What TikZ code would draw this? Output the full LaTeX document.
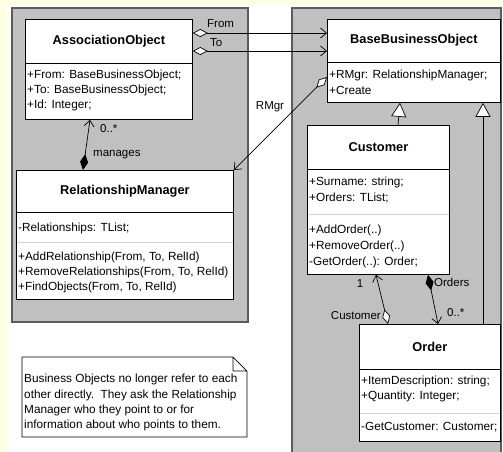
\documentclass[tikz,border=0pt]{standalone}
\usepackage{fontspec}
\setmainfont{Liberation Sans}
\usetikzlibrary{calc,arrows.meta}
\definecolor{paper}{HTML}{FFFFE1}
\definecolor{pkggray}{HTML}{C0C0C0}
\definecolor{pkgline}{HTML}{5C5C5C}
\definecolor{sepgray}{HTML}{D4D4D4}

\begin{document}
\begin{tikzpicture}[x=1pt,y=-1pt,
  pkg/.style={fill=pkggray,draw=pkgline,line width=1.4pt},
  cls/.style={draw=black,fill=white,line width=0.8pt,anchor=north west,inner sep=0pt},
  ttl/.style={font=\fontsize{12.8}{14}\selectfont\bfseries,inner sep=0pt},
  txt/.style={font=\fontsize{11.8}{14}\selectfont,anchor=west,inner sep=0pt},
  lbl/.style={font=\fontsize{11.5}{14}\selectfont,inner sep=0pt},
  link/.style={line width=0.7pt},
  agg/.style={link,{Diamond[fill=white,length=15pt,width=8pt]}-{Straight Barb[length=6pt,width=10pt]}},
  comp/.style={link,{Diamond[length=16pt,width=8pt]}-{Straight Barb[length=6pt,width=10pt]}},
  inherit/.style={link,-{Triangle[fill=white,length=14pt,width=15pt]}}]
\useasboundingbox (0,0) rectangle (503,451);
\fill[paper] (0,0) rectangle (503,451);
\fill[white] (7,4) rectangle (503,451);
% packages
\draw[pkg] (12,8) rectangle (248,322);
\draw[pkg] (292,8) rectangle (501,458);
% AssociationObject
\node[cls,minimum width=167pt,minimum height=100pt] (ao) at (25,19) {};
\node[ttl] (aoT) at ($(ao.north)+(0,22)$) {AssociationObject};
\draw ($(ao.north west)+(0,44)$) -- ($(ao.north east)+(0,44)$);
\foreach \t [count=\i] in {{+From: BaseBusinessObject;},{+To: BaseBusinessObject;},{+Id: Integer;}}
  \node[txt] (aoA\i) at ($(ao.north west)+(2,41+15*\i)$) {\t};
% BaseBusinessObject
\node[cls,minimum width=173pt,minimum height=83pt] (bbo) at (327,19) {};
\node[ttl] (bboT) at ($(bbo.north)+(0,21)$) {BaseBusinessObject};
\draw ($(bbo.north west)+(0,43)$) -- ($(bbo.north east)+(0,43)$);
\foreach \t [count=\i] in {{+RMgr: RelationshipManager;},{+Create}}
  \node[txt] (bboA\i) at ($(bbo.north west)+(2,41+15*\i)$) {\t};
% RelationshipManager
\node[cls,minimum width=217pt,minimum height=129pt] (rm) at (16,170) {};
\node[ttl] (rmT) at ($(rm.north)+(0,21)$) {RelationshipManager};
\draw ($(rm.north west)+(0,42)$) -- ($(rm.north east)+(0,42)$);
\node[txt] (rmA1) at ($(rm.north west)+(2,58)$) {-Relationships: TList;};
\draw[sepgray] ($(rm.north west)+(1,72)$) -- ($(rm.north east)+(-1,72)$);
\foreach \t [count=\i] in {{+AddRelationship(From, To, RelId)},{+RemoveRelationships(From, To, RelId)},{+FindObjects(From, To, RelId)}}
  \node[txt] (rmM\i) at ($(rm.north west)+(2,72+15*\i)$) {\t};
% Customer
\node[cls,minimum width=142pt,minimum height=149pt] (cust) at (307,125) {};
\node[ttl] (custT) at ($(cust.north)+(0,22)$) {Customer};
\draw ($(cust.north west)+(0,44)$) -- ($(cust.north east)+(0,44)$);
\foreach \t [count=\i] in {{+Surname: string;},{+Orders: TList;}}
  \node[txt] (custA\i) at ($(cust.north west)+(2,41+16*\i)$) {\t};
\draw[sepgray] ($(cust.north west)+(1,89)$) -- ($(cust.north east)+(-1,89)$);
\foreach \t [count=\i] in {{+AddOrder(..)},{+RemoveOrder(..)},{-GetOrder(..): Order;}}
  \node[txt] (custM\i) at ($(cust.north west)+(2,89+16*\i)$) {\t};
% Order
\node[cls,minimum width=141pt,minimum height=117pt] (ord) at (359,324) {};
\node[ttl] (ordT) at ($(ord.north)+(0,23)$) {Order};
\draw ($(ord.north west)+(0,45)$) -- ($(ord.north east)+(0,45)$);
\foreach \t [count=\i] in {{+ItemDescription: string;},{+Quantity: Integer;}}
  \node[txt] (ordA\i) at ($(ord.north west)+(2,42+15*\i)$) {\t};
\draw[sepgray] ($(ord.north west)+(1,89)$) -- ($(ord.north east)+(-1,89)$);
\node[txt] (ordM1) at ($(ord.north west)+(2,103)$) {-GetCustomer: Customer;};
% note
\draw[fill=white,line width=0.7pt] (22,357) -- (233,357) -- (247,371) -- (247,437) -- (22,437) -- cycle
  (233,357) -- (233,371) -- (247,371);
\node[txt,anchor=north west,align=left,font=\fontsize{11.8}{15.3}\selectfont] (note) at (24,374)
  {Business Objects no longer refer to each\\other directly.\ \ They ask the Relationship\\Manager who they point to or for\\information about who points to them.};
% connector ends
\coordinate (fromA) at ($(ao.north east)+(0,14)$);
\coordinate (fromB) at ($(bbo.north west)+(0,14)$);
\coordinate (toA) at ($(ao.north east)+(0,32)$);
\coordinate (toB) at ($(bbo.north west)+(0,32)$);
\coordinate (rmgrA) at ($(bbo.north west)+(0,58)$);
\coordinate (rmgrB) at (rm.north east);
\coordinate (mngA) at ($(rm.north west)+(67,0)$);
\coordinate (mngB) at ($(ao.south west)+(65,0)$);
\coordinate (custUp) at ($(cust.north west)+(91,0)$);
\coordinate (bboLeg) at ($(bbo.south west)+(73,0)$);
\coordinate (ordUp) at ($(ord.north west)+(124,0)$);
\coordinate (bboLeg2) at ($(bbo.south west)+(156,0)$);
\coordinate (custA) at ($(ord.north west)+(29,0)$);
\coordinate (custB) at ($(cust.south west)+(69,0)$);
\coordinate (ordsA) at ($(cust.south west)+(121,0)$);
\coordinate (ordsB) at ($(ord.north west)+(79,0)$);
% connectors
\draw[agg] (fromA) -- (fromB);
\draw[agg] (toA) -- (toB);
\draw[agg] (rmgrA) -- (rmgrB);
\draw[comp] (mngA) -- (mngB);
\draw[inherit] (custUp) -- (bboLeg);
\draw[inherit] (ordUp) -- (bboLeg2);
\draw[agg] (custA) -- (custB);
\draw[comp] (ordsA) -- (ordsB);
% labels
\node[lbl,anchor=west] (fromL) at (207,24) {From};
\node[lbl,anchor=west] (toL) at (210,43) {To};
\node[lbl] (rmgrL) at (270,107) {RMgr};
\node[lbl,anchor=west] (mngM) at (100,129) {0..*};
\node[lbl,anchor=west] (mngL) at (93,155) {manages};
\node[lbl] (custN) at (360,284) {1};
\node[lbl,anchor=east] (custL) at (381,316) {Customer};
\node[lbl,anchor=west] (ordsL) at (434,282) {Orders};
\node[lbl,anchor=west] (ordsN) at (447,313) {0..*};
\end{tikzpicture}
\end{document}
